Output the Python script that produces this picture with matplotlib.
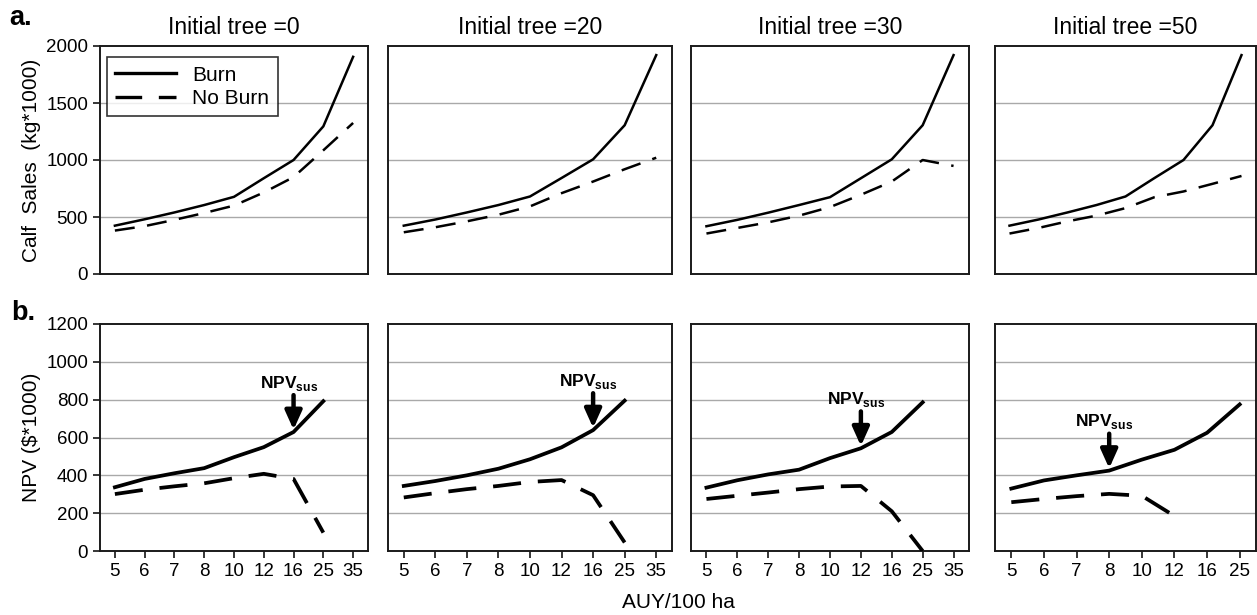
import matplotlib
matplotlib.use("Agg")
import matplotlib.pyplot as plt

plt.rcParams["font.family"] = ["Liberation Sans", "DejaVu Sans"]
plt.rcParams["mathtext.fontset"] = "custom"
plt.rcParams["mathtext.rm"] = "Liberation Sans"
plt.rcParams["mathtext.bf"] = "Liberation Sans:bold"

# Stocking rate categories (AUY/100 ha)
stocking = ["5", "6", "7", "8", "10", "12", "16", "25", "35"]
initial_tree = [0, 20, 30, 50]

# a. Calf sales (kg*1000)
calf_burn = [
    [424, 480, 540, 605, 677, 840, 1000, 1295, 1905],
    [424, 478, 540, 605, 680, 842, 1006, 1305, 1920],
    [419, 475, 538, 605, 674, 840, 1006, 1305, 1920],
    [424, 478, 540, 605, 680, 842, 1000, 1305, 1920],
]
calf_noburn = [
    [381, 420, 475, 535, 600, 715, 850, 1085, 1325],
    [366, 410, 462, 520, 593, 709, 811, 919, 1020],
    [355, 404, 453, 512, 587, 695, 811, 1000, 948],
    [355, 404, 462, 512, 578, 674, 724, 791, 860],
]

# b. NPV ($*1000)
npv_burn = [
    [337, 381, 411, 438, 496, 549, 629, 792],
    [344, 370, 400, 435, 485, 548, 639, 795],
    [335, 374, 405, 430, 491, 543, 629, 786],
    [330, 373, 400, 425, 483, 535, 625, 775],
]
npv_noburn = [
    [301, 324, 342, 358, 385, 408, 381, 97],
    [283, 306, 327, 344, 365, 375, 295, 45],
    [275, 292, 309, 327, 341, 344, 210, 0],
    [258, 275, 290, 302, 292, 185],
]
# sustainable stocking rate marked on each NPV panel
npv_sus = ["16", "16", "12", "8"]
# number of stocking categories on the NPV x axis of each panel
npv_ncat = [9, 9, 9, 8]

W, H = 1257, 615
fig = plt.figure(figsize=(W / 100, H / 100), dpi=100)

# panel pixel extents (left, right)
cols = [(100, 368), (388, 672), (691, 969), (995, 1256)]
top_rows = (46, 274)
bot_rows = (324, 551)


def make_ax(xr, yr):
    l, r = xr
    t, b = yr
    return fig.add_axes([l / W, 1 - b / H, (r - l) / W, (b - t) / H])


grid_kw = dict(color="#a9a9a9", lw=1.0, zorder=0)
spine_c = "#1a1a1a"


def style(ax):
    for s in ax.spines.values():
        s.set_color(spine_c)
        s.set_linewidth(1.4)
    ax.tick_params(axis="both", labelsize=13.5, colors="black", width=1.1,
                   length=5, direction="out")


for i in range(4):
    # ---- top row: calf sales ----
    ax = make_ax(cols[i], top_rows)
    style(ax)
    x = range(len(stocking))
    ax.set_ylim(0, 2000)
    ax.set_xlim(-0.5, len(stocking) - 0.5)
    ax.set_yticks([0, 500, 1000, 1500, 2000])
    for yv in [500, 1000, 1500]:
        ax.axhline(yv, **grid_kw)
    ax.plot(x, calf_burn[i], color="black", lw=1.8, solid_joinstyle="miter",
            label="Burn", zorder=3)
    ax.plot(x, calf_noburn[i], color="black", lw=1.8, dashes=[8, 5],
            label="No Burn", zorder=3)
    ax.set_xticks([])
    ax.set_title(f"Initial tree ={initial_tree[i]}", fontsize=16.5, pad=9)
    if i == 0:
        ax.set_ylabel("Calf  Sales  (kg*1000)", fontsize=15, labelpad=4)
        leg = ax.legend(loc="upper left", bbox_to_anchor=(0.026, 0.95),
                        borderaxespad=0, fontsize=15, frameon=True,
                        fancybox=False, handlelength=2.9, handletextpad=0.8,
                        borderpad=0.4, labelspacing=0.2)
        leg.get_frame().set_edgecolor("black")
        leg.get_frame().set_linewidth(1.2)
        for ln in leg.get_lines():
            ln.set_linewidth(2.4)
    else:
        ax.tick_params(axis="y", left=False, labelleft=False)

    # ---- bottom row: NPV ----
    ax = make_ax(cols[i], bot_rows)
    style(ax)
    n = npv_ncat[i]
    cats = stocking[:n]
    ax.set_xlim(-0.5, n - 0.5)
    ax.set_ylim(0, 1200)
    ax.set_yticks(range(0, 1201, 200))
    for yv in range(200, 1001, 200):
        ax.axhline(yv, **grid_kw)
    xb = range(len(npv_burn[i]))
    xn = range(len(npv_noburn[i]))
    ax.plot(xb, npv_burn[i], color="black", lw=2.7, zorder=3)
    ax.plot(xn, npv_noburn[i], color="black", lw=2.7, dashes=[7.5, 4.5],
            zorder=3)
    ax.set_xticks(range(n))
    ax.set_xticklabels(cats)
    if i == 0:
        ax.set_ylabel("NPV ($*1000)", fontsize=15, labelpad=4)
    else:
        ax.tick_params(axis="y", left=False, labelleft=False)

    k = stocking.index(npv_sus[i])
    v = npv_burn[i][k]
    ax.annotate("", xy=(k, v + 12), xytext=(k, v + 195),
                arrowprops=dict(arrowstyle="-|>,head_width=0.36,head_length=0.8",
                                lw=3.2, color="black", mutation_scale=14,
                                shrinkA=0, shrinkB=0), zorder=4)
    ax.text(k - 0.15, v + 235, r"$\mathbf{NPV}_{\mathbf{sus}}$", fontsize=12.5,
            ha="center", va="baseline", zorder=4)

fig.text(678 / W, 1 - 603 / H, "AUY/100 ha", fontsize=15, ha="center",
         va="center")
fig.text(9 / W, 1 - 25 / H, "a.", fontsize=19.5, fontweight="bold",
         ha="left", va="baseline")
fig.text(11 / W, 1 - 320 / H, "b.", fontsize=19.5, fontweight="bold",
         ha="left", va="baseline")

fig.savefig("out.png", dpi=100)
